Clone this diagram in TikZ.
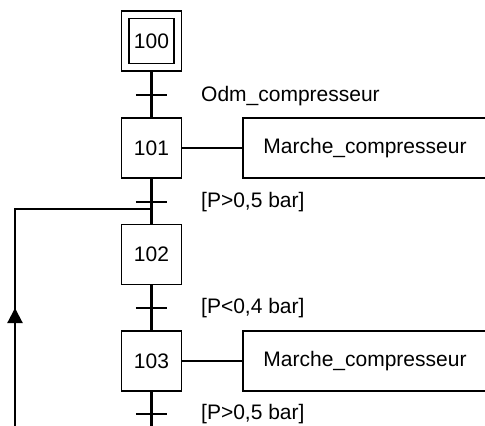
\documentclass[tikz,border=0pt]{standalone}
\usepackage{fontspec}
\setmainfont{Liberation Sans}
\usetikzlibrary{arrows.meta}
\begin{document}
\begin{tikzpicture}[x=1pt,y=-1pt,
  txt/.style={font=\fontsize{21}{25}\selectfont},
  stepbox/.style={draw,line width=1.8pt,minimum width=60pt,minimum height=60pt,inner sep=0pt,txt},
  actbox/.style={draw,line width=1.8pt,minimum width=244pt,minimum height=60pt,inner sep=0pt,txt},
  trans/.style={minimum width=31pt,minimum height=0pt,inner sep=0pt},
  tick/.style={line width=2pt},
  link/.style={line width=2.1pt},
  actlink/.style={line width=1.2pt},
  lbl/.style={anchor=west,txt,inner sep=0pt}
]
\useasboundingbox (0,0) rectangle (485,426);
\clip (0,0) rectangle (485,426);
% steps
\node[stepbox] (s100o) at (151.5,41) {};
\node[draw,line width=1.8pt,minimum width=45pt,minimum height=45pt,inner sep=0pt,txt] (s100) at (151.5,41) {100};
\node[stepbox] (s101) at (151.5,148) {101};
\node[stepbox] (s102) at (151.5,254.5) {102};
\node[stepbox] (s103) at (151.5,361) {103};
% actions
\node[actbox] (a101) at (365,148) {Marche\_compresseur};
\node[actbox] (a103) at (365,361) {Marche\_compresseur};
% transitions
\node[trans] (t1) at (151.5,95) {};
\node[trans] (t2) at (151.5,202) {};
\node[trans] (t3) at (151.5,308) {};
\node[trans] (t4) at (151.5,414) {};
\coordinate (join) at (151.5,209.3);
\coordinate (bend) at (15,209.3);
\coordinate (bot) at (15,430);
\coordinate (mainbot) at (151.5,430);
\coordinate (arrbase) at (15,323);
\coordinate (arrtip) at (15,308);
% labels
\node[lbl] (l1) at (201,96) {Odm\_compresseur};
\node[lbl] (l2) at (201,202) {[P>0,5 bar]};
\node[lbl] (l3) at (201,308.5) {[P<0,4 bar]};
\node[lbl] (l4) at (201,414) {[P>0,5 bar]};
% links
\draw[link] (s100o.south) -- (s101.north);
\draw[link] (s101.south) -- (s102.north);
\draw[link] (s102.south) -- (s103.north);
\draw[link] (s103.south) -- (mainbot);
\draw[tick] (t1.west) -- (t1.east);
\draw[tick] (t2.west) -- (t2.east);
\draw[tick] (t3.west) -- (t3.east);
\draw[tick] (t4.west) -- (t4.east);
\draw[actlink] (s101.east) -- (a101.west);
\draw[actlink] (s103.east) -- (a103.west);
% loop back
\draw[link] (bot) -- (bend) -- (join);
\draw[link,-{Triangle[width=15pt,length=15pt]}] (arrbase) -- (arrtip);
\end{tikzpicture}
\end{document}
